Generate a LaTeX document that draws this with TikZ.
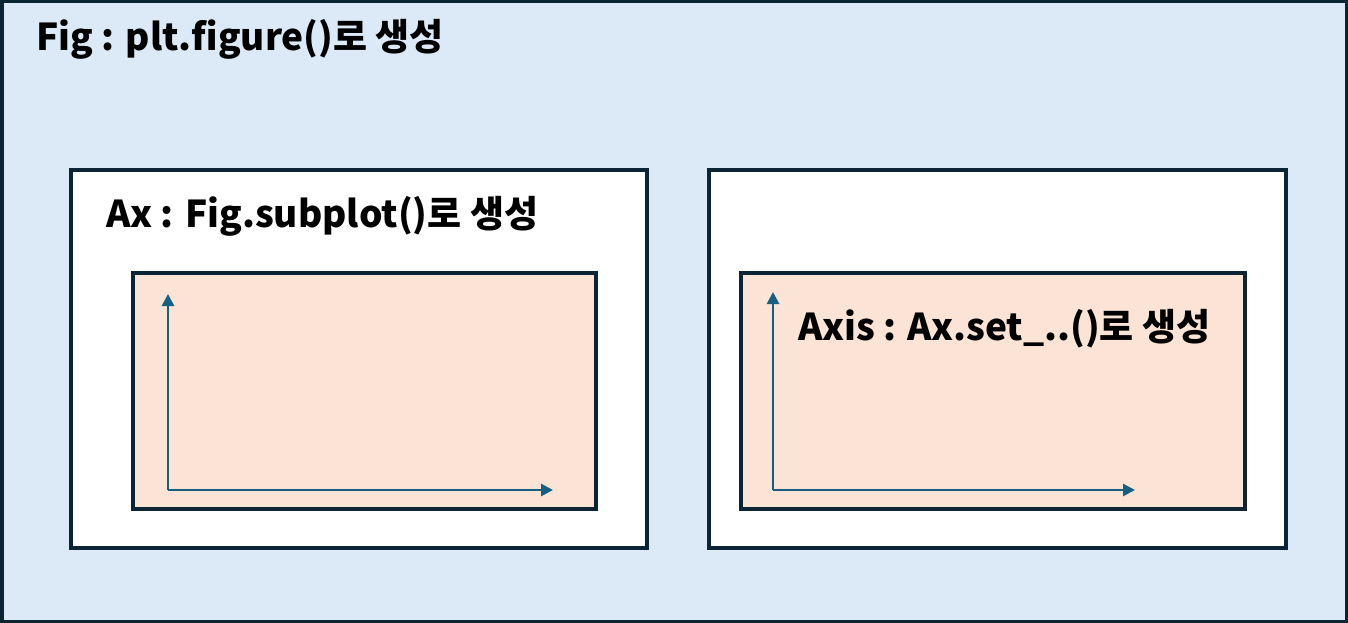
\documentclass[tikz,border=0pt]{standalone}
\usepackage{fontspec}
\setmainfont{Noto Sans CJK KR}
\usetikzlibrary{arrows.meta}
\definecolor{edge}{HTML}{0B2535}
\definecolor{figfill}{HTML}{DCEAF7}
\definecolor{axfill}{HTML}{FBE3D6}
\definecolor{axiscol}{HTML}{156082}
\tikzset{
  boxline/.style={draw=edge, line width=3.5pt},
  axisarrow/.style={draw=axiscol, line width=2.7pt, -{Triangle[length=12pt,width=12pt]}},
  lbl/.style={anchor=base west, inner sep=0pt, font=\fontsize{37pt}{42pt}\selectfont\bfseries}
}
\begin{document}
\begin{tikzpicture}[x=1pt,y=-1pt]
\useasboundingbox (0,0) rectangle (1348,623);
\draw[boxline, fill=figfill] (1.75,1.75) rectangle (1346.25,621.25);
\node[lbl] (figlbl) at (36,51) {Fig : plt.figure()로 생성};
\draw[boxline, fill=white] (71,170) rectangle (647,548);
\draw[boxline, fill=white] (709,170) rectangle (1286,548);
\node[lbl] (axlbl) at (106,227) {Ax : Fig.subplot()로 생성};
\draw[boxline, fill=axfill] (133,273) rectangle (596,509);
\draw[boxline, fill=axfill] (741,273) rectangle (1245,509);
\coordinate (lo) at (168,490);
\coordinate (ly) at (168,294);
\coordinate (lx) at (553,490);
\coordinate (ro) at (773,490);
\coordinate (ry) at (773,292);
\coordinate (rx) at (1135,490);
\draw[axisarrow] (lo) -- (ly);
\draw[axisarrow] (lo) -- (lx);
\draw[axisarrow] (ro) -- (ry);
\draw[axisarrow] (ro) -- (rx);
\node[lbl] (axislbl) at (798,340) {Axis : Ax.set\_..()로 생성};
\end{tikzpicture}
\end{document}
